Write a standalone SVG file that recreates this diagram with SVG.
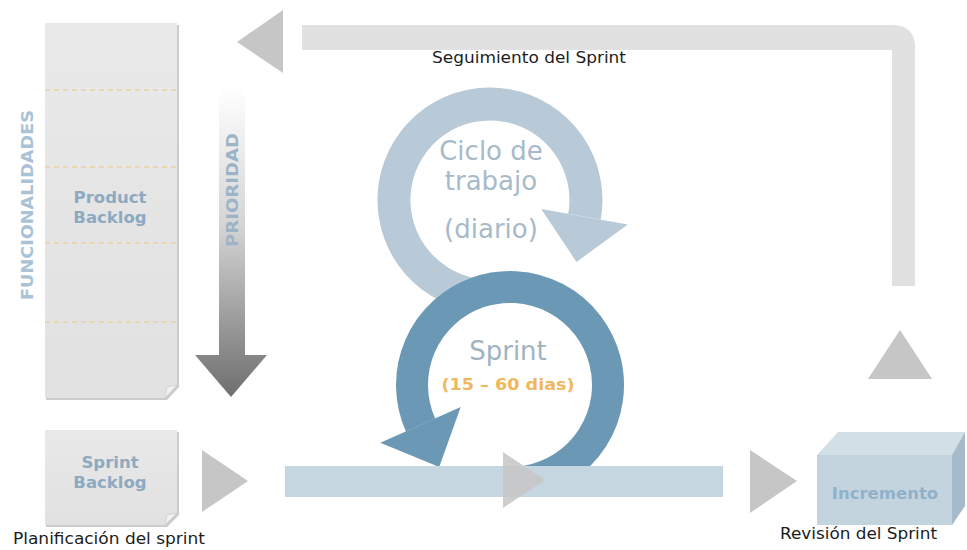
<svg xmlns="http://www.w3.org/2000/svg" width="967" height="550" viewBox="0 0 967 550">
  <defs>
    <linearGradient id="prioGrad" gradientUnits="userSpaceOnUse" x1="0" y1="87" x2="0" y2="397">
      <stop offset="0" stop-color="#ffffff"/>
      <stop offset="0.45" stop-color="#d4d4d4"/>
      <stop offset="1" stop-color="#6e6e6e"/>
    </linearGradient>
    <linearGradient id="pageGrad" x1="0" y1="0" x2="0" y2="1">
      <stop offset="0" stop-color="#e9e9e9"/>
      <stop offset="1" stop-color="#e1e1e1"/>
    </linearGradient>
  </defs>
  <style>
    .page { fill: url(#pageGrad); }
    .pageShadow { fill: #cbcbcb; }
    .fold { fill: #f2f2f2; stroke: #cfcfcf; stroke-width: 0.8; }
    .dash { stroke: #edcfa3; stroke-width: 1.5; stroke-dasharray: 5 4; fill: none; }
    .tri { fill: #c6c6c6; }
    .band { fill: #e1e1e1; }
    .bold { font-family: "DejaVu Sans", Verdana, sans-serif; font-weight: bold; }
    .reg { font-family: "DejaVu Sans", Verdana, sans-serif; }
    .pb { fill: #8daac1; font-size: 16.5px; text-anchor: middle; }
    .cap { fill: #1c1c1c; font-size: 16.5px; }
    .cycle { font-size: 26px; text-anchor: middle; }
  </style>
  <rect width="967" height="550" fill="#ffffff"/>

  <!-- Product Backlog -->
  <g id="product-backlog">
    <path class="pageShadow" d="M46,25 H179 V387 L167,400 H46 Z"/>
    <path class="page" d="M45,23 H177 V385 L165,398 H45 Z"/>
    <path class="fold" d="M177,385 L165,398 L167,387 Z"/>
    <line class="dash" x1="45" y1="90" x2="177" y2="90"/>
    <line class="dash" x1="45" y1="167" x2="177" y2="167"/>
    <line class="dash" x1="45" y1="243" x2="177" y2="243"/>
    <line class="dash" x1="45" y1="322" x2="177" y2="322"/>
    <text class="bold pb" x="110" y="203">Product</text>
    <text class="bold pb" x="110" y="223">Backlog</text>
  </g>

  <g id="funcionalidades-label">
    <text class="bold" font-size="16" fill="#a9c2d6" text-anchor="middle" transform="translate(33,205) rotate(-90)" textLength="190" lengthAdjust="spacingAndGlyphs">FUNCIONALIDADES</text>
  </g>

  <!-- Priority arrow -->
  <g id="prioridad">
    <rect x="219" y="87" width="26" height="270" fill="url(#prioGrad)"/>
    <polygon points="195,355 267,355 231,397" fill="url(#prioGrad)"/>
    <text class="bold" font-size="16" fill="#9db4c8" text-anchor="middle" transform="translate(238,190) rotate(-90)" textLength="114" lengthAdjust="spacingAndGlyphs">PRIORIDAD</text>
  </g>

  <!-- Sprint Backlog -->
  <g id="sprint-backlog">
    <path class="pageShadow" d="M46,432 H179 V515 L167,527 H46 Z"/>
    <path class="page" d="M45,430 H177 V513 L165,525 H45 Z"/>
    <path class="fold" d="M177,513 L165,525 L167,515 Z"/>
    <text class="bold pb" x="110" y="468">Sprint</text>
    <text class="bold pb" x="110" y="488">Backlog</text>
    <text class="reg cap" x="13" y="544" font-size="17px" textLength="192" lengthAdjust="spacingAndGlyphs">Planificación del sprint</text>
  </g>

  <!-- Daily cycle -->
  <g id="ciclo-diario">
    <path d="M473.3,294.5 A96,96 0 1 1 584.5,216.7" fill="none" stroke="#b8cad7" stroke-width="33"/>
    <polygon points="541.2,209.0 627.8,224.4 576.5,262.0" fill="#b8cad7"/>
    <text class="reg cycle" x="491" y="160" fill="#a7bac9">Ciclo de</text>
    <text class="reg cycle" x="491" y="190" fill="#a7bac9">trabajo</text>
    <text class="reg cycle" x="491" y="238" fill="#a7bac9">(diario)</text>
  </g>

  <!-- Sprint cycle -->
  <g id="sprint-ciclo">
    <path d="M527.0,481.5 A98,98 0 1 0 420.5,424.9" fill="none" stroke="#6b99b5" stroke-width="32"/>
    <polygon points="380.3,442.8 460.7,407.0 439.2,467.0" fill="#6b99b5"/>
    <text class="reg cycle" x="508" y="360" fill="#9fb3c3">Sprint</text>
    <text class="bold" x="508" y="390" font-size="16.5" fill="#f1b75c" text-anchor="middle" textLength="133" lengthAdjust="spacingAndGlyphs">(15 – 60 dias)</text>
  </g>

  <!-- Sprint execution bar -->
  <g id="sprint-bar">
    <rect x="285" y="466" width="438" height="31" fill="#c6d6e0"/>
  </g>

  <!-- Increment -->
  <g id="incremento">
    <polygon points="817,455 838,432 965,432 952,455" fill="#d3dfe7"/>
    <polygon points="952,455 965,432 965,506 952,525" fill="#a6bacb"/>
    <rect x="817" y="455" width="135" height="70" fill="#c4d4df"/>
    <text class="bold" x="885" y="499" font-size="16.5" fill="#8fb1ca" text-anchor="middle">Incremento</text>
    <text class="reg cap" x="780" y="539" textLength="157" lengthAdjust="spacingAndGlyphs">Revisión del Sprint</text>
  </g>

  <!-- Connectors -->
  <g id="connectors">
    <path class="band" d="M302,25 H895 A20,20 0 0 1 915,45 V286 H892 V50 H302 Z"/>
    <polygon class="tri" points="283,10 283,73 237,42"/>
    <polygon class="tri" points="868,379 932,379 900,330"/>
    <polygon class="tri" points="202,450 202,512 248,481"/>
    <polygon class="tri" points="750,450 750,513 797,481"/>
    <polygon class="tri" points="503,452 503,508 545,480" opacity="0.85"/>
    <text class="reg cap" x="432" y="63" textLength="194" lengthAdjust="spacingAndGlyphs">Seguimiento del Sprint</text>
  </g>
</svg>
